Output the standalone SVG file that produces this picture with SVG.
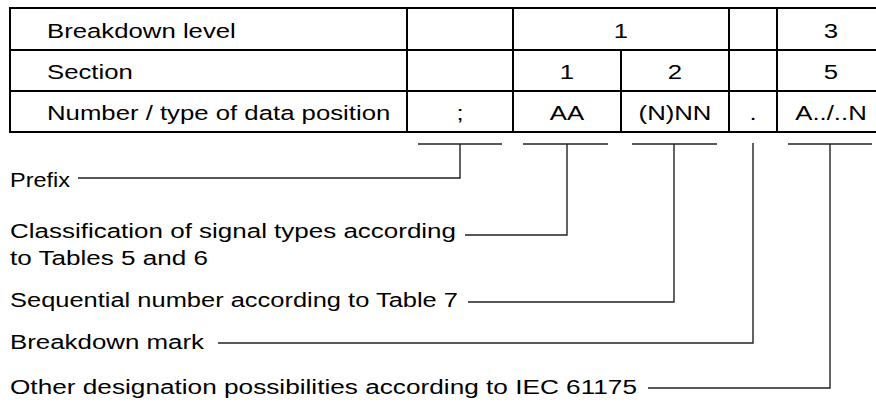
<svg xmlns="http://www.w3.org/2000/svg" width="876" height="403" viewBox="0 0 876 403">
  <style>
    .grid { stroke: #000; stroke-width: 2; fill: none; stroke-linecap: square; }
    .lead { stroke: #222; stroke-width: 1.4; fill: none; }
    .t { font-family: "Liberation Sans", Arial, sans-serif; font-size: 19.5px; fill: #000; }
    .c { text-anchor: middle; }
  </style>
  <rect width="876" height="403" fill="#fff"/>

  <!-- data-position table -->
  <g id="table">
    <path class="grid" d="M10,8 H880 M10,50 H880 M10,91 H880 M10,132 H880"/>
    <path class="grid" d="M10,8 V132 M407,8 V132 M513,8 V132 M621,50 V132 M729,8 V132 M777,8 V132"/>
    <text class="t" transform="translate(47,37.5) scale(1.32,1)">Breakdown level</text>
    <text class="t" transform="translate(47,78.5) scale(1.32,1)">Section</text>
    <text class="t" transform="translate(47,119.5) scale(1.32,1)">Number / type of data position</text>
    <text class="t c" transform="translate(621,37.5) scale(1.32,1)">1</text>
    <text class="t c" transform="translate(831,37.5) scale(1.32,1)">3</text>
    <text class="t c" transform="translate(567,78.5) scale(1.32,1)">1</text>
    <text class="t c" transform="translate(675,78.5) scale(1.32,1)">2</text>
    <text class="t c" transform="translate(831,78.5) scale(1.32,1)">5</text>
    <text class="t c" transform="translate(460,119.5) scale(1.32,1)">;</text>
    <text class="t c" transform="translate(567,119.5) scale(1.32,1)">AA</text>
    <text class="t c" transform="translate(675,119.5) scale(1.32,1)">(N)NN</text>
    <text class="t c" transform="translate(753,119.5) scale(1.32,1)">.</text>
    <text class="t c" transform="translate(831,119.5) scale(1.32,1)">A../..N</text>
  </g>

  <!-- explanatory labels -->
  <g id="label-prefix">
    <text class="t" x="10" y="187" textLength="60" lengthAdjust="spacingAndGlyphs">Prefix</text>
  </g>
  <g id="label-classification">
    <text class="t" x="10" y="238" textLength="446" lengthAdjust="spacingAndGlyphs">Classification of signal types according</text>
    <text class="t" x="10" y="265" textLength="198" lengthAdjust="spacingAndGlyphs">to Tables 5 and 6</text>
  </g>
  <g id="label-sequential">
    <text class="t" x="10" y="307" textLength="448" lengthAdjust="spacingAndGlyphs">Sequential number according to Table 7</text>
  </g>
  <g id="label-mark">
    <text class="t" x="10" y="349" textLength="194" lengthAdjust="spacingAndGlyphs">Breakdown mark</text>
  </g>
  <g id="label-other">
    <text class="t" x="10" y="394" textLength="627" lengthAdjust="spacingAndGlyphs">Other designation possibilities according to IEC 61175</text>
  </g>

  <!-- leader lines from the labels to the table columns -->
  <g id="connectors">
    <path class="lead" d="M418,144 H502 M460,144 V178 H78"/>
    <path class="lead" d="M523,144 H608 M567,144 V235 H465"/>
    <path class="lead" d="M632,144 H717 M674,144 V302 H468"/>
    <path class="lead" d="M753,143 V343 H218"/>
    <path class="lead" d="M788,144 H872 M830,144 V388 H648"/>
  </g>
</svg>
